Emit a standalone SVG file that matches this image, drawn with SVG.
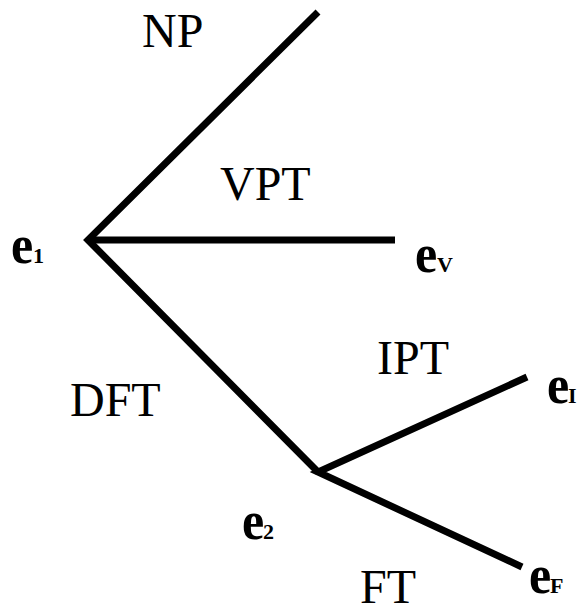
<svg xmlns="http://www.w3.org/2000/svg" width="584" height="613" viewBox="0 0 584 613">
<style>
.l{font-family:"Liberation Serif","Times New Roman",serif;font-size:48px;fill:#000}
.e{font-family:"Liberation Serif","Times New Roman",serif;font-size:50px;font-weight:bold;fill:#000}
.s{font-family:"Liberation Serif","Times New Roman",serif;font-size:22px;font-weight:bold;fill:#000}
.c{stroke:#000;stroke-width:7;fill:none;stroke-linecap:butt;stroke-linejoin:miter}
</style>
<rect width="584" height="613" fill="#fff"/>
<g id="connectors">
<path class="c" d="M318,12 L88,240 L318,472"/>
<path class="c" d="M88,240 L395,240"/>
<path class="c" d="M527,377 L318,472 L522,567"/>
</g>
<g id="NP"><text class="l" x="142" y="47">NP</text></g>
<g id="VPT"><text class="l" x="220" y="200">VPT</text></g>
<g id="DFT"><text class="l" x="70" y="416">DFT</text></g>
<g id="IPT"><text class="l" x="377" y="374">IPT</text></g>
<g id="FT"><text class="l" x="360" y="603">FT</text></g>
<g id="e1"><text class="e" transform="translate(11,263) scale(1,1.1)">e</text><text class="s" x="33" y="263">1</text></g>
<g id="eV"><text class="e" transform="translate(415,272) scale(1,1.1)">e</text><text class="s" x="437" y="272">V</text></g>
<g id="eI"><text class="e" transform="translate(547,403) scale(1,1.1)">e</text><text class="s" x="568" y="403">I</text></g>
<g id="e2"><text class="e" transform="translate(242,539) scale(1,1.1)">e</text><text class="s" x="263" y="539">2</text></g>
<g id="eF"><text class="e" transform="translate(529,593) scale(1,1.1)">e</text><text class="s" x="550" y="593">F</text></g>
</svg>
